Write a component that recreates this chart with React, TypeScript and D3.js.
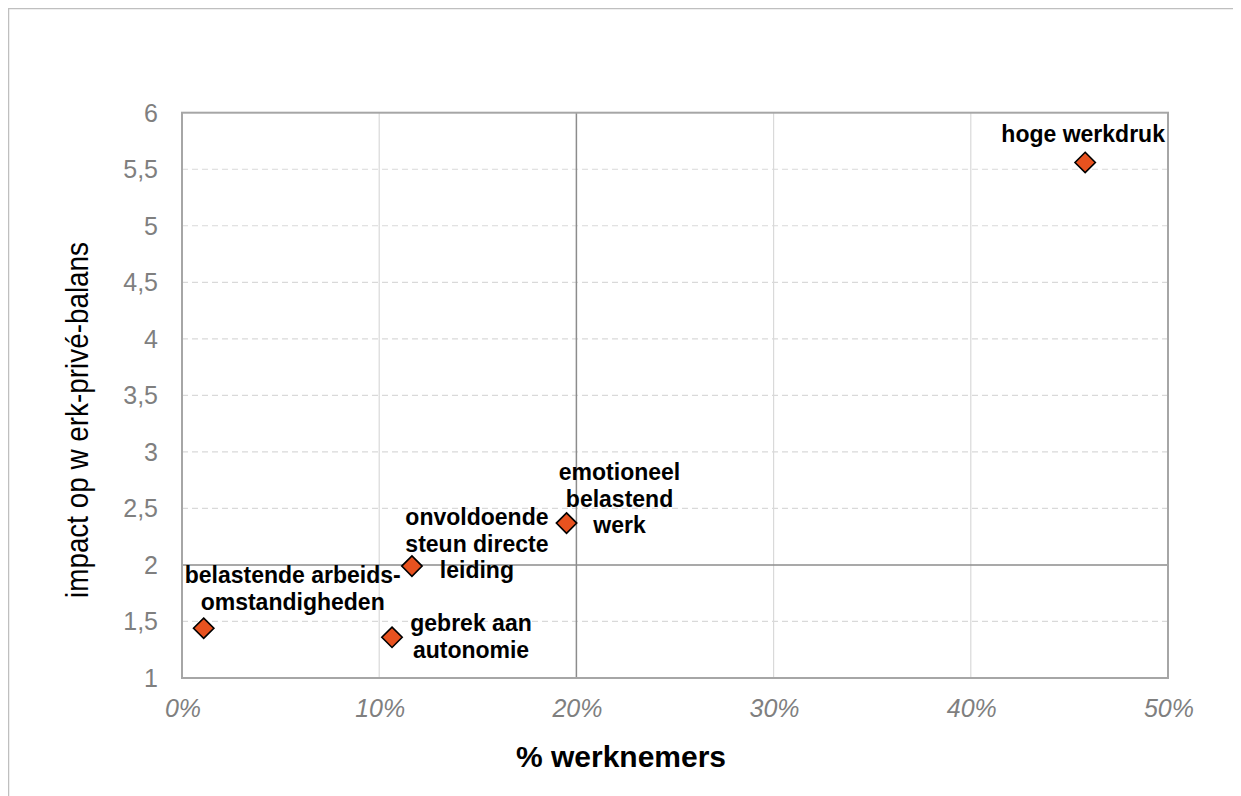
import React from "react";
import * as d3 from "d3";

// Stressors: share of employees affected vs. impact on work-life balance
const factorNames = [
  "hoge werkdruk",
  "emotioneel belastend werk",
  "onvoldoende steun directe leiding",
  "belastende arbeidsomstandigheden",
  "gebrek aan autonomie",
];
const shareWorkers = [0.458, 0.195, 0.1166, 0.011, 0.1065];
const impactScores = [5.56, 2.37, 1.99, 1.44, 1.36];
const labelLines = [
  ["hoge werkdruk"],
  ["emotioneel", "belastend", "werk"],
  ["onvoldoende", "steun directe", "leiding"],
  ["belastende arbeids-", "omstandigheden"],
  ["gebrek aan", "autonomie"],
];
const xTicks = [0, 0.1, 0.2, 0.3, 0.4, 0.5];
const yTicks = [1, 1.5, 2, 2.5, 3, 3.5, 4, 4.5, 5, 5.5, 6];
const xCross = 0.2;
const yCross = 2;

// label anchor offsets relative to each marker (px)
const labelOffsets = [
  [-2, -20],
  [53, -43],
  [65, -41],
  [89, -45],
  [79, -6],
];

const W = 1233;
const H = 788;
const plot = { left: 182, right: 1168, top: 112.7, bottom: 678 };

export default function App() {
  const x = d3.scaleLinear().domain([0, 0.5]).range([plot.left, plot.right]);
  const y = d3.scaleLinear().domain([1, 6]).range([plot.bottom, plot.top]);
  const fmtX = d3.format(".0%");
  const fmtY = (v: number) => String(v).replace(".", ",");
  const diamond = d3.symbol().type(d3.symbolDiamond2).size(2 * 11.5 * 11.5)();
  const font = "Liberation Sans, Arial, sans-serif";

  return (
    <svg width={W} height={H} style={{ display: "block" }} fontFamily={font}>
      <g transform="translate(-8,-8)">
        <rect x={8.5} y={8.5} width={1300} height={900} fill="#fff" stroke="#bfbfbf" strokeWidth={1.5} />

        {/* horizontal gridlines */}
        {yTicks
          .filter((t) => t !== 1 && t !== 6 && t !== yCross)
          .map((t) => (
            <line key={"hy" + t} x1={plot.left} x2={plot.right} y1={y(t)} y2={y(t)}
              stroke="#d9d9d9" strokeWidth={1.2} strokeDasharray="6,4" />
          ))}
        {/* vertical gridlines */}
        {xTicks
          .filter((t) => t !== 0 && t !== 0.5 && t !== xCross)
          .map((t) => (
            <line key={"vx" + t} x1={x(t)} x2={x(t)} y1={plot.top} y2={plot.bottom}
              stroke="#d9d9d9" strokeWidth={1.2} />
          ))}

        {/* quadrant cross lines */}
        <line x1={x(xCross)} x2={x(xCross)} y1={plot.top} y2={plot.bottom} stroke="#8c8c8c" strokeWidth={1.5} />
        <line x1={plot.left} x2={plot.right} y1={y(yCross)} y2={y(yCross)} stroke="#8c8c8c" strokeWidth={1.5} />

        {/* plot frame */}
        <rect x={plot.left} y={plot.top} width={plot.right - plot.left} height={plot.bottom - plot.top}
          fill="none" stroke="#a6a6a6" strokeWidth={2} />

        {/* y tick labels */}
        {yTicks.map((t) => (
          <text key={"yl" + t} x={158} y={y(t)} dy="0.36em" textAnchor="end" fontSize={25} fill="#7f7f7f">
            {fmtY(t)}
          </text>
        ))}
        {/* x tick labels */}
        {xTicks.map((t) => (
          <text key={"xl" + t} x={x(t) + 1} y={717} textAnchor="middle" fontSize={25} fontStyle="italic" fill="#7f7f7f">
            {fmtX(t)}
          </text>
        ))}

        {/* axis titles */}
        <text x={621} y={767} textAnchor="middle" fontSize={30} fontWeight="bold" fill="#000">
          % werknemers
        </text>
        <text transform="translate(88,420) rotate(-90)" textAnchor="middle" fontSize={31} fill="#000"
          textLength={356} lengthAdjust="spacingAndGlyphs">
          impact op w erk-privé-balans
        </text>

        {/* markers */}
        {factorNames.map((n, i) => (
          <path key={"m" + n} d={diamond ?? ""} transform={`translate(${x(shareWorkers[i])},${y(impactScores[i])})`}
            fill="#e8521f" stroke="#000" strokeWidth={1.6} strokeLinejoin="miter" />
        ))}

        {/* data labels */}
        {factorNames.map((n, i) => (
          <text key={"t" + n} textAnchor="middle" fontSize={23} fontWeight="bold" fill="#000">
            {labelLines[i].map((line, j) => (
              <tspan key={j} x={x(shareWorkers[i]) + labelOffsets[i][0]}
                y={y(impactScores[i]) + labelOffsets[i][1] + j * 26.5}>
                {line}
              </tspan>
            ))}
          </text>
        ))}
      </g>
    </svg>
  );
}
